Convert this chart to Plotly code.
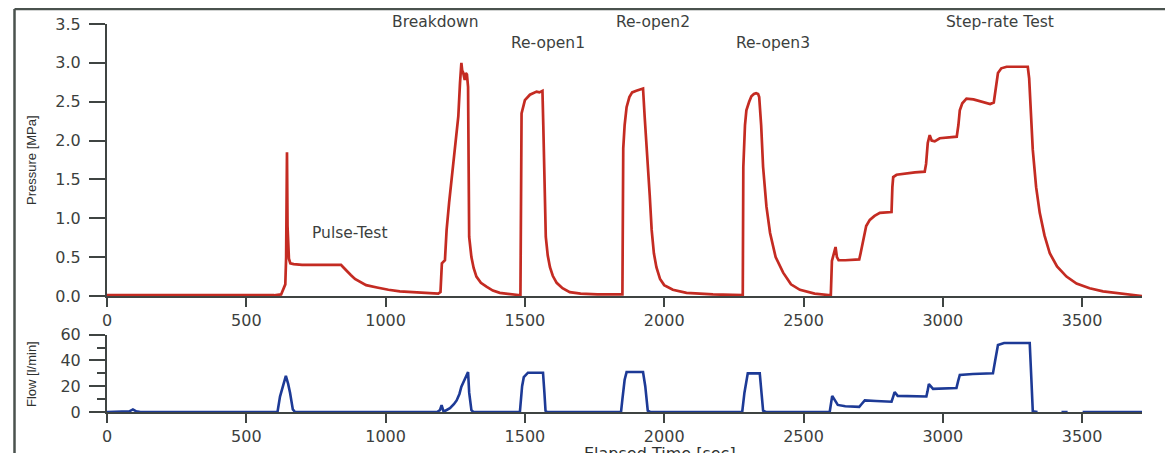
import plotly.graph_objects as go

# ---------------- data ----------------
time_p = [0, 100, 200, 300, 400, 500, 600, 625, 632, 640, 643, 646, 648, 650, 653, 658, 670, 700, 750, 800, 840,
          848, 860, 875, 890, 908, 930, 969, 1010, 1051, 1100, 1150, 1189,
          1197, 1202, 1213, 1219, 1228, 1237, 1249, 1261, 1267, 1272, 1275, 1278, 1284, 1288, 1292, 1296, 1298, 1300,
          1308, 1316, 1326, 1342, 1362, 1385, 1410, 1450, 1484,
          1488, 1500, 1518, 1542, 1552, 1563, 1566, 1570, 1575, 1582, 1590, 1600, 1614, 1635, 1661, 1700, 1760, 1850,
          1853, 1858, 1865, 1875, 1885, 1900, 1915, 1924, 1930, 1938, 1948, 1955, 1963, 1972, 1985, 2000, 2031, 2080,
          2175, 2282,
          2284, 2290, 2295, 2305, 2313, 2322, 2330, 2337, 2341, 2348, 2355, 2367, 2380, 2400, 2427, 2455, 2487, 2540,
          2598,
          2602, 2610, 2615, 2620, 2626, 2650, 2700, 2705, 2715, 2725, 2738, 2755, 2774, 2816, 2819, 2822, 2834, 2870,
          2900, 2935, 2940, 2946, 2953, 2960, 2971, 2989, 3020, 3050, 3056, 3061, 3070, 3085, 3110, 3140, 3170, 3183,
          3190, 3198, 3210, 3229, 3260, 3305, 3310, 3316, 3323, 3335, 3348, 3365, 3384, 3410, 3444, 3480, 3527, 3575,
          3624, 3670, 3715]
pressure = [0.01, 0.01, 0.005, 0.01, 0.01, 0.005, 0.01, 0.02, 0.08, 0.15, 0.5, 1.85, 0.9, 0.65, 0.48, 0.42, 0.41,
            0.40, 0.40, 0.40, 0.40,
            0.37, 0.32, 0.27, 0.22, 0.18, 0.14, 0.11, 0.08, 0.06, 0.05, 0.04, 0.03,
            0.05, 0.42, 0.46, 0.85, 1.2, 1.49, 1.84, 2.31, 2.74, 3.0, 2.9, 2.88, 2.78, 2.87, 2.85, 2.69, 1.7, 0.76,
            0.50, 0.36, 0.25, 0.17, 0.12, 0.07, 0.04, 0.02, 0.01,
            2.35, 2.52, 2.59, 2.63, 2.62, 2.64, 2.2, 1.4, 0.76, 0.52, 0.37, 0.26, 0.17, 0.10, 0.05, 0.03, 0.02, 0.02,
            1.9, 2.2, 2.43, 2.56, 2.62, 2.64, 2.66, 2.67, 2.3, 1.9, 1.3, 0.85, 0.55, 0.37, 0.22, 0.14, 0.08, 0.04,
            0.02, 0.01,
            1.66, 2.2, 2.39, 2.5, 2.57, 2.6, 2.61, 2.6, 2.56, 2.2, 1.66, 1.15, 0.81, 0.5, 0.30, 0.15, 0.08, 0.03,
            0.01,
            0.45, 0.55, 0.63, 0.5, 0.46, 0.46, 0.47, 0.55, 0.75, 0.9, 0.98, 1.03, 1.07, 1.08, 1.4, 1.53, 1.56, 1.58,
            1.59, 1.60, 1.7, 1.97, 2.07, 2.0, 1.99, 2.03, 2.04, 2.05, 2.2, 2.39, 2.48, 2.54, 2.53, 2.5, 2.47, 2.49,
            2.7, 2.87, 2.93, 2.95, 2.95, 2.95, 2.8, 2.4, 1.88, 1.4, 1.07, 0.78, 0.55, 0.38, 0.25, 0.16, 0.10, 0.06,
            0.04, 0.02, 0.0]

time_f = [0, 60, 80, 93, 105, 120, 300, 500, 612, 621, 633, 642, 650, 657, 667, 675, 1000, 1185,
          1195, 1201, 1207, 1215, 1231, 1245, 1255, 1265, 1272, 1285, 1296, 1300, 1308, 1315, 1482,
          1490, 1496, 1511, 1540, 1565, 1570, 1574, 1580, 1845,
          1850, 1858, 1865, 1924, 1932, 1941, 1950, 2280,
          2288, 2300, 2343, 2350, 2355, 2365, 2594,
          2603, 2610, 2623, 2650, 2700, 2708, 2720, 2760, 2816, 2822, 2827, 2838, 2900, 2941, 2945, 2950, 2965,
          3000, 3049, 3055, 3061, 3108, 3150, 3180, 3188, 3198, 3220, 3260, 3312, 3318, 3323, 3340,
          3380, 3426, 3448, 3470, 3502, 3715]
flow = [0, 0, 0.5, 2, 0.5, 0, 0, 0, 0, 12, 22, 28, 22, 15, 2, 0, 0, 0,
        1.5, 5.4, 1, 1, 3, 6, 9, 14, 19.6, 26, 31, 15, 1.5, 0, 0,
        20, 27, 30.5, 30.5, 30.5, 15, 1, 0, 0,
        10, 25, 31, 31, 20, 1, 0, 0,
        15, 30, 30, 15, 1, 0, 0,
        12.5, 10, 5.5, 4.5, 4, 6, 9, 8.5, 8, 12, 15.5, 12.5, 12, 12, 16, 21.7, 18,
        18.3, 18.6, 24, 28.7, 29.5, 29.8, 30, 40, 52, 53.5, 53.6, 53.6, 25, 0.5, 0,
        None, 0, 0, None, 0, 0]

labels = ["Pulse-Test", "Breakdown", "Re-open1", "Re-open2", "Re-open3", "Step-rate Test"]
label_x = [872, 1180, 1582, 1959, 2390, 3204]
label_y = [0.81, 3.53, 3.26, 3.53, 3.26, 3.53]

x_range = [0, 3715]
p_range = [0, 3.5]

# ---------------- layout geometry (page pixels; page body has 8px margin) ----------------
OFF = 8
W, H = 1173 - OFF, 453 - OFF
PL, PR = 107 - OFF, 1142 - OFF          # plot left / right
PT, PB = 24 - OFF, 412 - OFF            # plot top / bottom
PH = PB - PT
PW = PR - PL


def px_x(page_x):
    return (page_x - OFF - PL) / PW


def px_y(page_y):
    return (PB - (page_y - OFF)) / PH


RED = "#c42b22"
BLUE = "#1d3a96"
AX = "#3f4442"
TXT = "#3c3f3e"

fig = go.Figure()
fig.add_trace(go.Scatter(x=time_p, y=pressure, mode="lines",
                         line=dict(color=RED, width=2.7), xaxis="x", yaxis="y",
                         showlegend=False, hoverinfo="skip"))
fig.add_trace(go.Scatter(x=time_f, y=flow, mode="lines", connectgaps=False,
                         line=dict(color=BLUE, width=2.6), xaxis="x2", yaxis="y2",
                         showlegend=False, hoverinfo="skip"))

tickfont = dict(family="DejaVu Sans", size=16, color=TXT)

common_x = dict(range=x_range, showline=True, linewidth=2, linecolor=AX,
                ticks="outside", ticklen=9, tickwidth=2, tickcolor=AX,
                dtick=500, tick0=0, showgrid=False, zeroline=False,
                tickfont=tickfont, layer="below traces", fixedrange=True, automargin=False)
common_y = dict(showline=True, linewidth=2, linecolor=AX,
                ticks="outside", ticklen=16, tickwidth=2, tickcolor=AX,
                showgrid=False, zeroline=False, tickfont=tickfont, ticklabelstandoff=5,
                layer="below traces", fixedrange=True, automargin=False)

top_lo = px_y(296)
bot_hi = px_y(334.7)

fig.update_layout(
    width=W, height=H,
    margin=dict(l=PL, r=W - PR, t=PT, b=H - PB, autoexpand=False),
    paper_bgcolor="white", plot_bgcolor="white",
    xaxis=dict(domain=[0, 1], anchor="y", **common_x),
    yaxis=dict(domain=[top_lo, 1], anchor="x", range=p_range, dtick=0.5,
               tickformat=".1f", **common_y),
    xaxis2=dict(domain=[0, 1], anchor="y2", **common_x),
    yaxis2=dict(domain=[0, bot_hi], anchor="x2", range=[0, 60], dtick=20,
                minor=dict(dtick=10, ticks="outside", ticklen=8, tickwidth=2, tickcolor=AX),
                **common_y),
)

annots = []
top_span = 1 - top_lo
for t, xv, yv in zip(labels, label_x, label_y):
    yp = top_lo + (yv - p_range[0]) / (p_range[1] - p_range[0]) * top_span
    annots.append(dict(x=xv, y=yp, xref="x", yref="paper", text=t, showarrow=False,
                       font=dict(family="DejaVu Sans", size=15.5, color=TXT),
                       xanchor="center", yanchor="middle"))
annots.append(dict(x=px_x(31), y=px_y(160), xref="paper", yref="paper",
                   text="Pressure [MPa]", textangle=-90, showarrow=False,
                   font=dict(family="Liberation Sans", size=13, color="#2e3130"),
                   xanchor="center", yanchor="middle"))
annots.append(dict(x=px_x(31), y=px_y(374), xref="paper", yref="paper",
                   text="Flow [l/min]", textangle=-90, showarrow=False,
                   font=dict(family="Liberation Sans", size=13, color="#2e3130"),
                   xanchor="center", yanchor="middle"))
annots.append(dict(x=px_x(660), y=px_y(441.5), xref="paper", yref="paper",
                   text="Elapsed Time [sec]", showarrow=False,
                   font=dict(family="DejaVu Sans", size=16, color="#2e3130"),
                   xanchor="center", yanchor="top"))
fig.update_layout(annotations=annots)

# outer frame (left and top edges visible)
fx = px_x(14.5)
fy = px_y(9)
fig.add_shape(type="line", xref="paper", yref="paper", x0=fx, x1=px_x(1180), y0=fy, y1=fy,
              line=dict(color="#4a524e", width=2.5))
fig.add_shape(type="line", xref="paper", yref="paper", x0=fx, x1=fx, y0=fy, y1=px_y(470),
              line=dict(color="#4a524e", width=2.5))

fig.write_html("out.html")
